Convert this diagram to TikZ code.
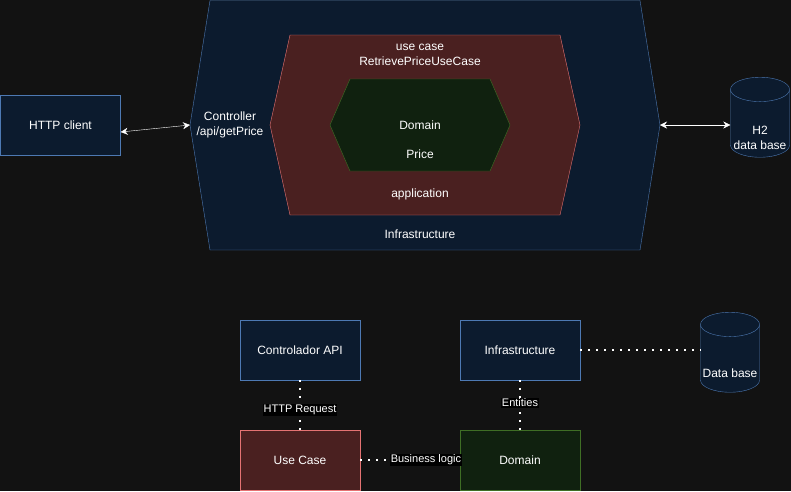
\documentclass[tikz,border=0pt]{standalone}
\usepackage{fontspec}
\setmainfont{Liberation Sans}
\usetikzlibrary{shapes.geometric,arrows.meta}
\definecolor{bg}{HTML}{121212}
\definecolor{navyfill}{HTML}{0C1B2E}
\definecolor{navyline}{HTML}{4D79B3}
\definecolor{redfill}{HTML}{4A2020}
\definecolor{redline}{HTML}{E57373}
\definecolor{greenfill}{HTML}{10210F}
\definecolor{greenline}{HTML}{3F6E25}
\begin{document}
\begin{tikzpicture}[x=1pt,y=-1pt,
  every node/.style={text=white,font=\fontsize{12}{15}\selectfont,align=center},
  navybox/.style={draw=navyline,fill=navyfill,minimum width=120,minimum height=60},
  redbox/.style={draw=redline,fill=redfill,minimum width=120,minimum height=60},
  greenbox/.style={draw=greenline,fill=greenfill,minimum width=120,minimum height=60},
  cyl/.style={cylinder,shape border rotate=90,aspect=0.45,text width=52,inner sep=1,draw=navyline,fill=navyfill,minimum width=59,minimum height=80},
  link/.style={white,{Stealth[length=7,width=7]}-{Stealth[length=7,width=7]}},
  dots/.style={white,line width=1.5,dash pattern=on 1.5 off 6.5},
  tag/.style={fill=black,inner sep=1,font=\fontsize{11}{13}\selectfont}]
\fill[bg] (0,0) rectangle (791,491);

\draw[navyline,fill=navyfill] (210,0.5) -- (640,0.5) -- (660,125) -- (640,250) -- (210,250) -- (190,125) -- cycle;
\draw[redline,fill=redfill] (290,35) -- (560,35) -- (580,125) -- (560,215) -- (290,215) -- (270,125) -- cycle;
\draw[greenline,fill=greenfill] (350,79) -- (490,79) -- (510,125) -- (490,171) -- (350,171) -- (330,125) -- cycle;
\coordinate (ctrl) at (190,125);
\coordinate (adapter) at (660,125);

\node (usecase) at (420,55) {use case\\RetrievePriceUseCase};
\node (domain) at (420,125) {Domain};
\node (price) at (420,154) {Price};
\node (app) at (420,194) {application};
\node (infra) at (420,234) {Infrastructure};
\node (controller) at (230,125) {Controller\\/api/getPrice};

\node[navybox] (client) at (60.5,125) {HTTP client};
\node[cyl] (h2) at (760,125) {};
\node (h2text) at ([yshift=-13pt]h2.center) {H2\\data base};
\draw[link] ([yshift=-7pt]client.east) -- (ctrl);
\draw[link] (adapter) -- (h2.west |- adapter);

\node[navybox] (api) at (300,350) {Controlador API};
\node[navybox] (infrabox) at (520,350) {Infrastructure};
\node[redbox] (uc) at (300,460) {Use Case};
\node[greenbox] (dom) at (520,460) {Domain};
\node[cyl] (db) at (730,360) {};
\node (dbtext) at ([yshift=-13pt]db.center) {Data base};

\draw[dots] (api) -- node[tag,pos=0.6] {HTTP Request} (uc);
\draw[dots] (infrabox) -- node[tag,pos=0.46] {Entities} (dom);
\draw[dots] (uc) -- node[tag,pos=0.66] {Business logic} (dom);
\draw[dots] (infrabox.east) -- (infrabox.east -| db.west);
\end{tikzpicture}
\end{document}
